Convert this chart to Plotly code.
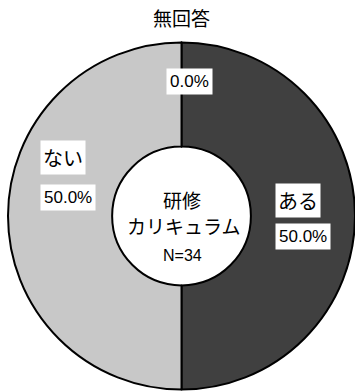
import plotly.graph_objects as go

# Survey answers for the "研修カリキュラム" question
categories = ["無回答", "ある", "ない"]
counts = [0, 17, 17]
colors = ["#ffffff", "#404040", "#c8c8c8"]
center_title = ["研修", "カリキュラム"]

total = sum(counts)
pcts = [100.0 * c / total for c in counts]

W, H = 355, 392
JP_FONT = "Noto Sans CJK JP, sans-serif"
NUM_FONT = "Liberation Sans, Arial, sans-serif"


def px(x, y):
    return x / W, 1 - y / H


fig = go.Figure(
    go.Pie(
        labels=categories,
        values=counts,
        sort=False,
        direction="clockwise",
        rotation=0,
        hole=0.40,
        marker=dict(colors=colors, line=dict(color="#000000", width=2)),
        textinfo="none",
        hoverinfo="label+percent",
        showlegend=False,
        domain=dict(x=[8 / W, 1.0], y=[2 / H, 1 - 42 / H]),
    )
)

ann = []


def add(text, x, y, size, family, bg=None, pad=2):
    xp, yp = px(x, y)
    d = dict(
        text=text, x=xp, y=yp, xref="paper", yref="paper",
        showarrow=False, font=dict(size=size, color="#000000", family=family),
        xanchor="center", yanchor="middle", borderpad=pad,
    )
    if bg:
        d["bgcolor"] = bg
    ann.append(d)


# category names and percentage labels
add(categories[0], 181, 17, 19, JP_FONT)
add(f"{pcts[0]:.1f}%", 190, 82, 17, NUM_FONT, "#ffffff", 3)
add(categories[2], 63, 157, 20, JP_FONT, "#ffffff")
add(f"{pcts[2]:.1f}%", 68, 198, 17, NUM_FONT, "#ffffff", 3)
add(categories[1], 298, 200, 20, JP_FONT, "#ffffff")
add(f"{pcts[1]:.1f}%", 303, 236, 17, NUM_FONT, "#ffffff", 3)

# centre caption
add(center_title[0], 182, 199, 19, JP_FONT)
add(center_title[1], 183, 225, 19, JP_FONT)
add(f"N={total}", 182, 256, 16, NUM_FONT)

fig.update_layout(
    width=W, height=H,
    margin=dict(l=0, r=0, t=0, b=0),
    paper_bgcolor="#ffffff",
    plot_bgcolor="#ffffff",
    annotations=ann,
)

fig.write_html("out.html")
